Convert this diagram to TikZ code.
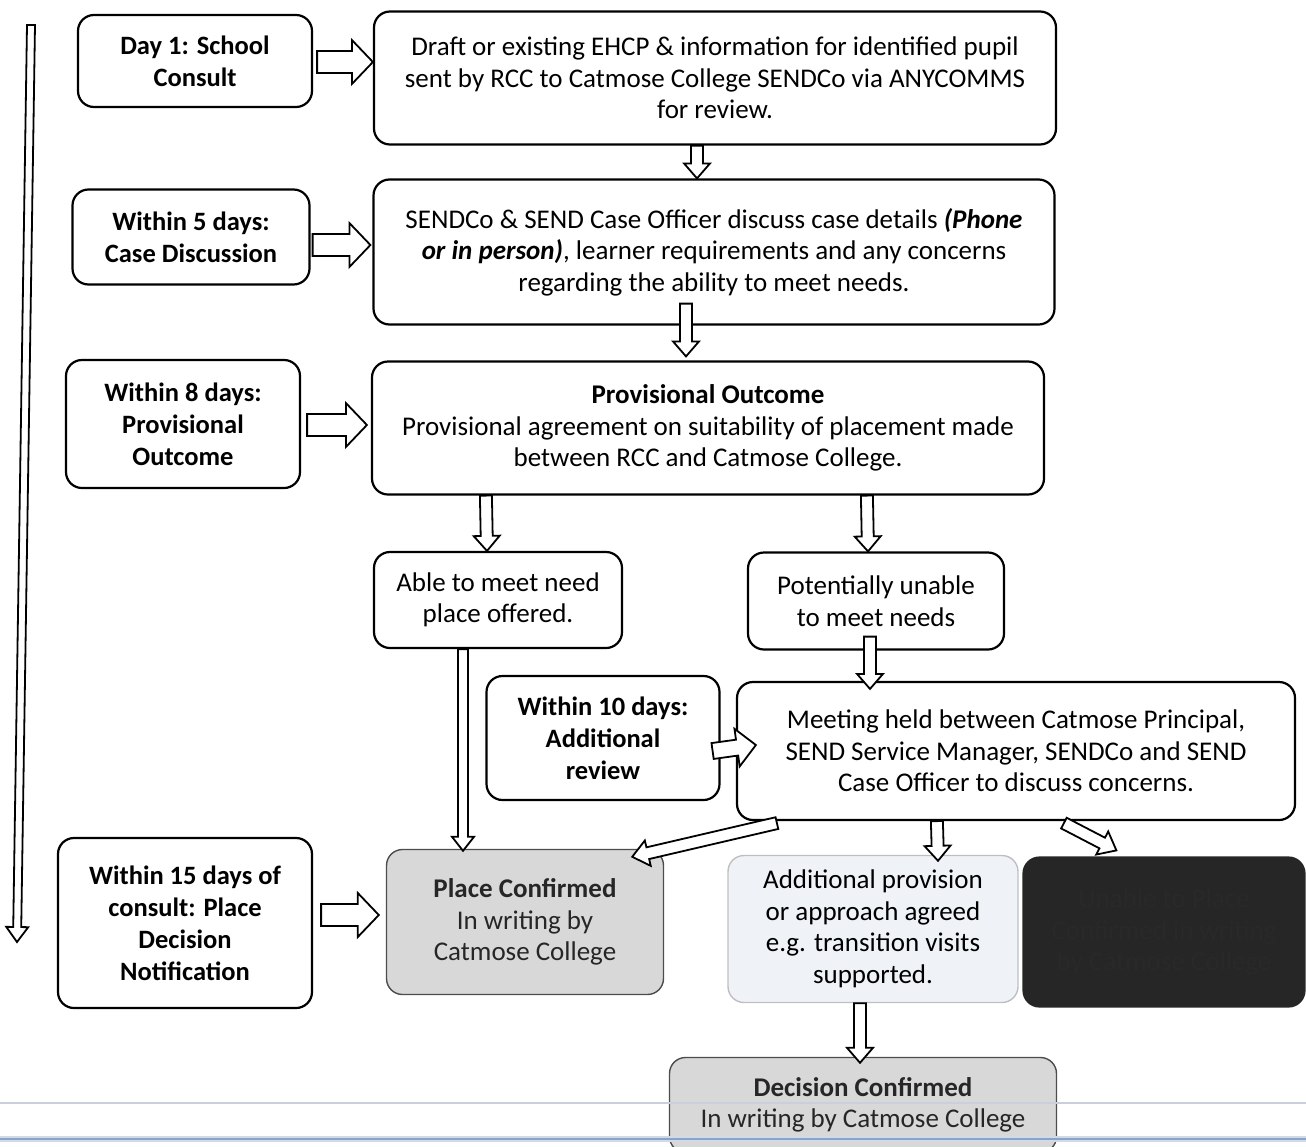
\documentclass[tikz,border=0pt]{standalone}
\usepackage{fontspec}
\setmainfont{Carlito}
\usetikzlibrary{calc}

\definecolor{confirmgray}{HTML}{D8D8D8}
\definecolor{agreedblue}{HTML}{EFF3F7}
\definecolor{unabledark}{HTML}{262626}
\definecolor{rulegray}{HTML}{C9D0DC}
\definecolor{ruleblue}{HTML}{8CA3C9}

% hollow block arrow: shaft half width, head half width, head length, from, to
\newcommand{\hollowarrow}[5]{%
  \coordinate (ha-s) at (#4);
  \coordinate (ha-t) at (#5);
  \coordinate (ha-h) at ($(ha-t)!#3!(ha-s)$);
  \draw[arrowline] ($(ha-s)!#1!90:(ha-t)$) -- ($(ha-h)!#1!90:(ha-t)$)
    -- ($(ha-h)!#2!90:(ha-t)$) -- (ha-t) -- ($(ha-h)!#2!-90:(ha-t)$)
    -- ($(ha-h)!#1!-90:(ha-t)$) -- ($(ha-s)!#1!-90:(ha-t)$) -- cycle;
}

\begin{document}
\begin{tikzpicture}[x=1pt,y=-1pt,
    box/.style={draw, line width=2.2pt, rounded corners=16pt, align=center,
      inner sep=0pt, font=\fontsize{27}{31.5}\selectfont},
    daybox/.style={box, font=\fontsize{26.5}{32}\selectfont\bfseries},
    arrowline/.style={draw, line width=1.8pt, fill=white, line join=miter}]
  \useasboundingbox (0,0) rectangle (1306,1146);
  \clip (0,0) rectangle (1306,1146);

  % Time line
  \hollowarrow{4pt}{11pt}{15pt}{31,25}{17,942}

  % Day boxes
  \node[daybox, minimum width=234, minimum height=92] (day1) at (195,61) {Day 1: School\\Consult};
  \node[daybox, minimum width=237, minimum height=95] (day5) at (191,237) {Within 5 days:\\Case Discussion};
  \node[daybox, minimum width=234, minimum height=128] (day8) at (183,424) {Within 8 days:\\Provisional\\Outcome};
  \node[daybox, minimum width=233, minimum height=124] (day10) at (603,738) {Within 10 days:\\Additional\\review};
  \node[daybox, minimum width=254, minimum height=170] (day15) at (185,923) {Within 15 days of\\consult: Place\\Decision\\Notification};

  % Process boxes
  \node[box, minimum width=682, minimum height=133] (consult) at (715,78)
    {Draft or existing EHCP \& information for identified pupil\\sent by RCC to Catmose College SENDCo via ANYCOMMS\\for review.};
  \node[box, minimum width=681, minimum height=145] (discuss) at (714,252)
    {SENDCo \& SEND Case Officer discuss case details \textbf{\textit{(Phone}}\\
     \textbf{\textit{or in person)}}, learner requirements and any concerns\\
     regarding the ability to meet needs.};
  \node[box, minimum width=672, minimum height=133] (outcome) at (708,428)
    {\textbf{Provisional Outcome}\\Provisional agreement on suitability of placement made\\between RCC and Catmose College.};
  \node[box, minimum width=248, minimum height=96] (able) at (498,600) {Able to meet need\\place offered.};
  \node[box, minimum width=256, minimum height=97] (unable) at (876,601) {Potentially unable\\to meet needs};
  \node[box, minimum width=558, minimum height=138] (meeting) at (1016,751)
    {Meeting held between Catmose Principal,\\SEND Service Manager, SENDCo and SEND\\Case Officer to discuss concerns.};

  % Decisions
  \node[box, draw=black!70, line width=1.4pt, fill=confirmgray, text=black!85, minimum width=277, minimum height=145] (placed) at (525,922)
    {\textbf{Place Confirmed}\\In writing by\\Catmose College};
  \node[box, draw=black!25, line width=1.4pt, fill=agreedblue, minimum width=290, minimum height=147] (agreed) at (873,929)
    {Additional provision\\or approach agreed\\e.g. transition visits\\supported.};
  \node[box, draw=unabledark, fill=unabledark, text=black!84, minimum width=281, minimum height=149] (refused) at (1164,932)
    {Unable to Place\\Confirmed in writing\\by Catmose College};
  \node[box, draw=black!70, line width=1.4pt, fill=confirmgray, text=black!85, minimum width=387, minimum height=95] (decided) at (863,1105)
    {\textbf{Decision Confirmed}\\In writing by Catmose College};

  % Arrows from the day boxes
  \hollowarrow{11pt}{22pt}{21pt}{$(day1.east)+(4,1)$}{$(consult.west)+(0,-16)$}
  \hollowarrow{11pt}{22pt}{21pt}{$(day5.east)+(2,8)$}{$(discuss.west)+(-2,-7)$}
  \hollowarrow{11pt}{22pt}{21pt}{$(day8.east)+(6,1)$}{$(outcome.west)+(-4,-3)$}
  \hollowarrow{8pt}{19pt}{19pt}{$(day10.east)+(-8,13)$}{$(meeting.west)+(20,-6)$}
  \hollowarrow{11pt}{22pt}{21pt}{$(day15.east)+(8,-8)$}{$(placed.west)+(-7,-7)$}

  % Arrows down the flow
  \hollowarrow{6pt}{13pt}{15pt}{$(consult.south)+(-18,0)$}{$(discuss.north)+(-17,0)$}
  \hollowarrow{6pt}{13pt}{15pt}{$(discuss.south)+(-28,-22)$}{$(outcome.north)+(-22,-4)$}
  \hollowarrow{6pt}{13pt}{15pt}{$(outcome.south west)+(115,0)$}{$(able.north)+(-11,0)$}
  \hollowarrow{6pt}{13pt}{15pt}{$(outcome.south west)+(496,0)$}{$(unable.north)+(-8,0)$}
  \hollowarrow{6pt}{13pt}{15pt}{$(unable.south)+(-6,-14)$}{$(meeting.north)+(-146,8)$}
  \hollowarrow{5pt}{11pt}{14pt}{$(able.south)+(-35,0)$}{$(placed.north)+(-62,2)$}
  \hollowarrow{6pt}{13pt}{16pt}{$(meeting.south west)+(41,2)$}{$(placed.north east)+(-32,8)$}
  \hollowarrow{6pt}{13pt}{15pt}{$(meeting.south west)+(201,0)$}{$(agreed.north)+(65,6)$}
  \hollowarrow{6pt}{13pt}{16pt}{$(meeting.south west)+(328,2)$}{$(refused.north west)+(94,-6)$}
  \hollowarrow{6pt}{13pt}{15pt}{$(agreed.south)+(-13,0)$}{$(decided.north)+(-3,6)$}

  % Page rules
  \draw[rulegray, line width=2pt] (0,1103) -- (1306,1103);
  \draw[ruleblue!40, line width=6pt] (0,1139) -- (1306,1139);
  \draw[ruleblue, line width=2.5pt] (0,1139) -- (1306,1139);
\end{tikzpicture}
\end{document}
